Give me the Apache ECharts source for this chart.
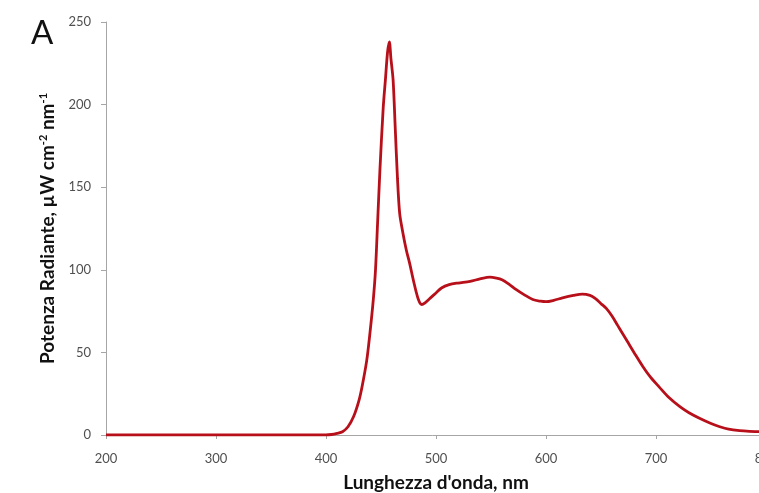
<!DOCTYPE html>
<html>
<head>
<meta charset="utf-8">
<script src="https://cdn.jsdelivr.net/npm/echarts@6/dist/echarts.min.js"></script>
<style>html,body{margin:0;padding:0;background:#fff}#c{width:759px;height:493px}</style>
</head>
<body>
<div id="c"></div>
<script>
const wavelength = [200,250,300,350,400,405,410,415,420,425,430,433,437,440,443,445,447,449,452,454,456,457.6,459,461,463,465,467,470,473,476,480,484,487,490,495,500,505,512,520,531,540,549,555,560,566,573,580,588,595,600,607,615,625,633,640,645,650,655,660,665,670,675,680,688,695,703,712,722,730,740,750,758,766,776,785,794,800];
const power = [0,0,0,0,0,0.3,1,2,5,11,21,30,45,62,82,100,130,160,198,215,232,238,228,215,185,155,134,122,112,104,92,82,79,80,83,86,89,91,92,93,94.5,95.6,95,94,91.5,88,85,82,81,80.7,81.5,83,84.5,85.3,84.5,82.5,79.5,76.5,72,66.5,61,55.5,50,41.5,35,29,22.5,17,13.5,10,7,5,3.5,2.6,2.2,2,1.8];
const xTicks = [200,300,400,500,600,700,800];
const yTicks = [0,50,100,150,200,250];
const panelLabel = 'A';
const xTitle = "Lunghezza d'onda, nm";

const chart = echarts.init(document.getElementById('c'), null, {renderer:'canvas'});
const font = 'Lato, "Open Sans", sans-serif';
chart.setOption({
  animation:false,
  backgroundColor:'#fff',
  grid:{left:106,right:-7,top:22,bottom:58,outerBoundsMode:'none',containLabel:false},
  graphic:[{type:'text',left:31,top:17,style:{text:panelLabel,fontSize:33,fontFamily:font,fill:'#111'}}],
  xAxis:{
    type:'value',min:xTicks[0],max:xTicks[xTicks.length-1],interval:100,
    name:xTitle,nameLocation:'middle',nameGap:38,
    nameTextStyle:{fontFamily:font,fontWeight:'bold',fontSize:19,color:'#111'},
    axisLine:{show:true,lineStyle:{color:'#a6a6a6',width:1}},
    axisTick:{show:true,length:4,lineStyle:{color:'#a6a6a6'}},
    axisLabel:{margin:17,fontFamily:font,fontSize:13,color:'#505050',showMaxLabel:true},
    splitLine:{show:false}
  },
  yAxis:{
    type:'value',min:yTicks[0],max:yTicks[yTicks.length-1],interval:50,
    name:'{a|Potenza Radiante, µW cm}{s|-2}{a| nm}{s|-1}',nameLocation:'middle',nameGap:47,
    nameTextStyle:{fontFamily:font,fontWeight:'bold',fontSize:19,color:'#111',
      rich:{a:{fontFamily:font,fontWeight:'bold',fontSize:19,color:'#111'},
            s:{fontFamily:font,fontWeight:'bold',fontSize:11,color:'#111',verticalAlign:'top',padding:[0,0,10,0]}}},
    axisLine:{show:true,lineStyle:{color:'#a6a6a6',width:1}},
    axisTick:{show:true,length:5,lineStyle:{color:'#a6a6a6'}},
    axisLabel:{margin:15,fontFamily:font,fontSize:13,color:'#505050'},
    splitLine:{show:false}
  },
  series:[{
    type:'line',data:wavelength.map((w,i)=>[w,power[i]]),showSymbol:false,smooth:0.3,
    lineStyle:{color:'#b8101a',width:2.8},clip:true
  }]
});
</script>
</body>
</html>
